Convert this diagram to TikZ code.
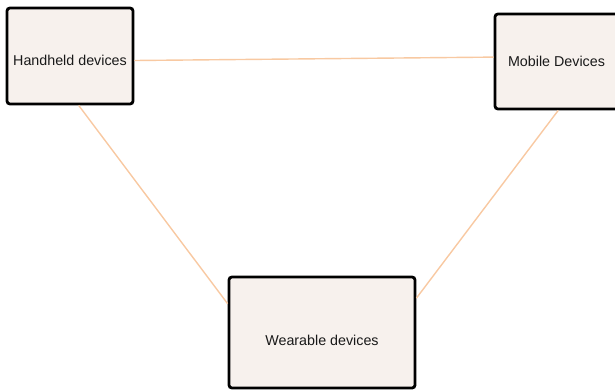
\documentclass[tikz,border=0pt]{standalone}
\usepackage{fontspec}
\setmainfont{Liberation Sans}
\usetikzlibrary{calc}

\definecolor{boxfill}{RGB}{247,241,237}
\definecolor{linkpeach}{RGB}{248,201,162}
\definecolor{textgray}{RGB}{25,25,25}

\begin{document}
\begin{tikzpicture}[
    x=0.03cm, y=-0.03cm,
    device/.style={rectangle, draw=black, line width=2.4pt, rounded corners=2.5pt,
      fill=boxfill, inner sep=0pt, text=textgray,
      font=\fontsize{12.2}{14}\selectfont},
    link/.style={draw=linkpeach, line width=1.2pt}
  ]
  \useasboundingbox (0,0) rectangle (615,389);

  % devices
  \node[device, minimum width=3.78cm, minimum height=2.88cm, text height=0.54cm, text depth=0cm] (hand) at (70,56) {Handheld devices};
  \node[device, minimum width=3.69cm, minimum height=2.85cm] (mob) at (556.5,61.5) {Mobile Devices};
  \node[device, minimum width=5.58cm, minimum height=3.33cm, text height=0.75cm, text depth=0cm] (wear) at (322,332.5) {Wearable devices};

  % links
  \draw[link] (hand.-4) -- (mob.176);
  \draw[link] (hand.-80) -- (wear.163);
  \draw[link] (mob.-88) -- (wear.20);
\end{tikzpicture}
\end{document}
